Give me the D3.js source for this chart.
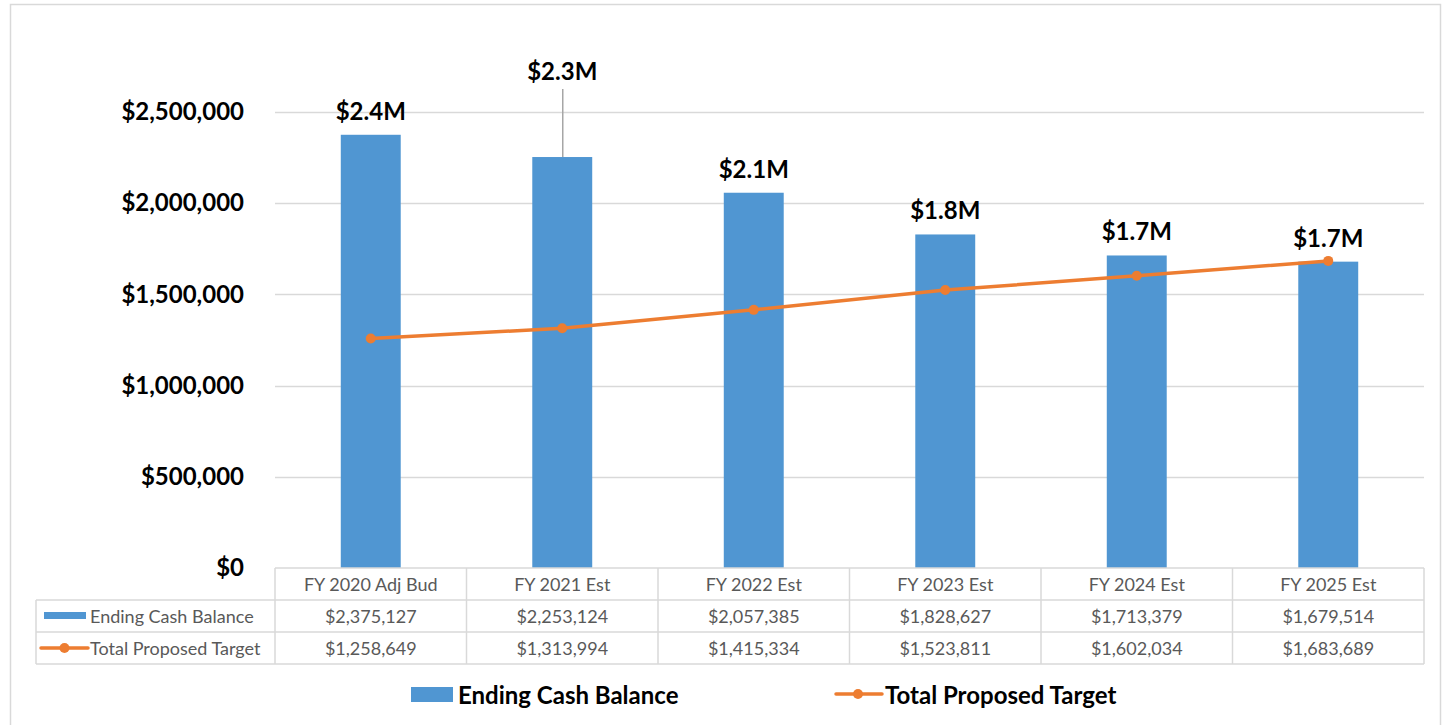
<!DOCTYPE html>
<html>
<head>
<meta charset="utf-8">
<script src="https://cdn.jsdelivr.net/npm/d3@7"></script>
<style>
  body { margin: 0; background: #fff; }
  svg { display: block; }
</style>
</head>
<body>
<div id="chart"></div>
<script>
// Ending cash balance vs proposed target, with Excel-style data table

const categories = ["FY 2020 Adj Bud", "FY 2021 Est", "FY 2022 Est", "FY 2023 Est", "FY 2024 Est", "FY 2025 Est"];
const cashBalance = [2375127, 2253124, 2057385, 1828627, 1713379, 1679514];
const proposedTarget = [1258649, 1313994, 1415334, 1523811, 1602034, 1683689];
const barLabels = ["$2.4M", "$2.3M", "$2.1M", "$1.8M", "$1.7M", "$1.7M"];
const yTicks = [0, 500000, 1000000, 1500000, 2000000, 2500000];
const seriesNames = ["Ending Cash Balance", "Total Proposed Target"];

const W = 1446, H = 725;
const BLUE = "#5096d2", ORANGE = "#ed7d31", GRID = "#d9d9d9", TXT = "#595959";
const FONT = "Lato, 'Open Sans', sans-serif";
const BIG = 24, SMALL = 18;

const plot = { left: 275, right: 1424, top: 112, bottom: 568 };
const rowH = 32;
const tableLeft = 36;

const svg = d3.select("#chart").append("svg").attr("width", W).attr("height", H);

// outer chart border
svg.append("rect").attr("x", 10.5).attr("y", 4.5).attr("width", 1430).attr("height", 740)
    .attr("fill", "none").attr("stroke", GRID).attr("stroke-width", 1.5);

const x = d3.scaleBand().domain(categories).range([plot.left, plot.right]).paddingInner(0).paddingOuter(0);
const y = d3.scaleLinear().domain([0, 2500000]).range([plot.bottom, plot.top]);
const barW = x.bandwidth() * 0.313;

// gridlines
svg.append("g").selectAll("line").data(yTicks.slice(1)).join("line")
    .attr("x1", plot.left).attr("x2", plot.right)
    .attr("y1", d => Math.round(y(d)) + 0.5).attr("y2", d => Math.round(y(d)) + 0.5)
    .attr("stroke", GRID).attr("stroke-width", 1.5);

// y axis labels
const yAxis = d3.axisLeft(y).tickValues(yTicks).tickSize(0).tickPadding(0)
    .tickFormat(d => "$" + d3.format(",")(d));
svg.append("g").attr("transform", "translate(244,0)").call(yAxis)
    .call(g => g.select(".domain").remove())
    .selectAll("text")
    .attr("font-family", FONT).attr("font-size", BIG).attr("font-weight", "bold").attr("fill", "#000");

// bars
svg.append("g").selectAll("rect").data(cashBalance).join("rect")
    .attr("x", (d, i) => x(categories[i]) + (x.bandwidth() - barW) / 2)
    .attr("width", barW)
    .attr("y", d => y(d))
    .attr("height", d => y(0) - y(d))
    .attr("fill", BLUE);

// bar labels (the second one was dragged up in the original, with a leader line)
const liftIdx = 1, liftPx = 62;
svg.append("line")
    .attr("x1", x(categories[liftIdx]) + x.bandwidth() / 2 + 0.5)
    .attr("x2", x(categories[liftIdx]) + x.bandwidth() / 2 + 0.5)
    .attr("y1", y(cashBalance[liftIdx]) - 68).attr("y2", y(cashBalance[liftIdx]))
    .attr("stroke", "#a6a6a6").attr("stroke-width", 1.5);

svg.append("g").selectAll("text").data(barLabels).join("text")
    .attr("x", (d, i) => x(categories[i]) + x.bandwidth() / 2)
    .attr("y", (d, i) => y(cashBalance[i]) - 15 - (i === liftIdx ? liftPx : 0))
    .attr("text-anchor", "middle")
    .attr("font-family", FONT).attr("font-size", BIG).attr("font-weight", "bold").attr("fill", "#000")
    .text(d => d);

// target line
const line = d3.line().x((d, i) => x(categories[i]) + x.bandwidth() / 2).y(d => y(d));
svg.append("path").datum(proposedTarget).attr("d", line)
    .attr("fill", "none").attr("stroke", ORANGE).attr("stroke-width", 3.5).attr("stroke-linejoin", "round");
svg.append("g").selectAll("circle").data(proposedTarget).join("circle")
    .attr("cx", (d, i) => x(categories[i]) + x.bandwidth() / 2).attr("cy", d => y(d))
    .attr("r", 5).attr("fill", ORANGE);

// --- DATA TABLE ---
const tbl = svg.append("g");
const gridStroke = (sel) => sel.attr("stroke", GRID).attr("stroke-width", 1.5);

// horizontal lines
tbl.append("line").attr("x1", plot.left).attr("x2", plot.right).attr("y1", plot.bottom).attr("y2", plot.bottom).call(gridStroke);
[1, 2, 3].forEach(r => {
    tbl.append("line").attr("x1", tableLeft).attr("x2", plot.right)
        .attr("y1", plot.bottom + r * rowH).attr("y2", plot.bottom + r * rowH).call(gridStroke);
});
// vertical lines
categories.concat(["_end"]).forEach((c, i) => {
    const xx = i < categories.length ? x(c) : plot.right;
    tbl.append("line").attr("x1", xx).attr("x2", xx)
        .attr("y1", plot.bottom).attr("y2", plot.bottom + 3 * rowH).call(gridStroke);
});
tbl.append("line").attr("x1", tableLeft).attr("x2", tableLeft)
    .attr("y1", plot.bottom + rowH).attr("y2", plot.bottom + 3 * rowH).call(gridStroke);

const cellText = (sel) => sel.attr("font-family", FONT).attr("font-size", SMALL).attr("fill", TXT)
    .attr("text-anchor", "middle").attr("dominant-baseline", "central");

tbl.append("g").selectAll("text").data(categories).join("text")
    .attr("x", d => x(d) + x.bandwidth() / 2).attr("y", plot.bottom + rowH / 2 - 0.5)
    .call(cellText).text(d => d);

[cashBalance, proposedTarget].forEach((vals, r) => {
    tbl.append("g").selectAll("text").data(vals).join("text")
        .attr("x", (d, i) => x(categories[i]) + x.bandwidth() / 2)
        .attr("y", plot.bottom + (r + 1) * rowH + rowH / 2 - 0.5)
        .call(cellText).text(d => "$" + d3.format(",")(d));
});

// row keys
const r1 = plot.bottom + rowH * 1.5, r2 = plot.bottom + rowH * 2.5;
tbl.append("rect").attr("x", 44).attr("y", r1 - 4).attr("width", 42).attr("height", 7).attr("fill", BLUE);
tbl.append("line").attr("x1", 41).attr("x2", 88).attr("y1", r2).attr("y2", r2)
    .attr("stroke", ORANGE).attr("stroke-width", 3.5).attr("stroke-linecap", "round");
tbl.append("circle").attr("cx", 64.5).attr("cy", r2).attr("r", 5).attr("fill", ORANGE);
[r1, r2].forEach((ry, i) => {
    tbl.append("text").attr("x", 90).attr("y", ry - 0.5).call(cellText)
        .attr("text-anchor", "start").text(seriesNames[i]);
});

// --- LEGEND ---
const legY = 694;
const leg = svg.append("g");
leg.append("rect").attr("x", 411).attr("y", legY - 7).attr("width", 42).attr("height", 15).attr("fill", BLUE);
leg.append("text").attr("x", 458).attr("y", legY).attr("dominant-baseline", "central")
    .attr("font-family", FONT).attr("font-size", BIG).attr("font-weight", "bold").attr("fill", "#000")
    .text(seriesNames[0]);
leg.append("line").attr("x1", 836).attr("x2", 882).attr("y1", legY).attr("y2", legY)
    .attr("stroke", ORANGE).attr("stroke-width", 3.5).attr("stroke-linecap", "round");
leg.append("circle").attr("cx", 858).attr("cy", legY).attr("r", 5).attr("fill", ORANGE);
leg.append("text").attr("x", 885).attr("y", legY).attr("dominant-baseline", "central")
    .attr("font-family", FONT).attr("font-size", BIG).attr("font-weight", "bold").attr("fill", "#000")
    .text(seriesNames[1]);
</script>
</body>
</html>
